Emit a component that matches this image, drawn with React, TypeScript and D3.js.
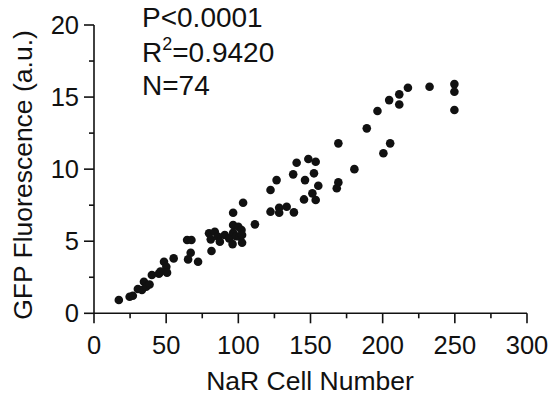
import React from "react";
import * as d3 from "d3";

const xTicks = [0, 50, 100, 150, 200, 250, 300];
const xMinor = [25, 75, 125, 175, 225, 275];
const yTicks = [0, 5, 10, 15, 20];
const yMinor = [2.5, 7.5, 12.5, 17.5];

const cellNumber = [
  17.2, 24.7, 26.9, 30.4, 33.2, 34.6, 36.2, 38.5, 40.1, 45, 46, 48.5, 50.1, 50.6, 55.2,
  64.5, 67.5, 67, 65.2, 72.1, 81.4, 79.7, 83.7, 80.9, 86, 87.2, 90.6, 93.6,
  96.4, 96.4, 96.4, 96, 98.5, 100, 101, 102.2, 102.6, 102.6, 103.3, 111.5,
  122.3, 126.5, 122.3, 128.3, 128.3, 133.5, 138.5, 138, 140.4, 148.5, 153.6, 146.2,
  152.4, 155.4, 151.3, 145.5, 153.6, 169.3, 169.3, 168.2, 180.4, 189, 196.4, 200.5,
  205.2, 204.5, 211.5, 211.5, 217.5, 232.5, 249.7, 249.7, 249.7,
];
const gfp = [
  0.92, 1.15, 1.22, 1.69, 1.62, 2.19, 1.84, 2.0, 2.66, 2.75, 2.89, 3.58, 3.23, 2.82, 3.81,
  5.08, 5.08, 4.2, 3.74, 3.58, 4.32, 5.55, 5.66, 5.13, 5.31, 4.97, 5.43, 5.2,
  6.98, 6.12, 5.59, 4.8, 5.35, 6.0, 5.31, 5.78, 4.9, 5.43, 7.67, 6.17,
  8.55, 9.24, 7.05, 7.32, 6.98, 7.39, 7.0, 9.64, 10.44, 10.7, 10.51, 9.24,
  9.71, 8.85, 8.32, 7.9, 7.86, 11.79, 9.08, 8.67, 10.0, 12.83, 14.03, 11.1,
  11.79, 14.79, 15.19, 14.49, 15.65, 15.72, 15.9, 15.37, 14.1,
];

const W = 551;
const H = 396;
const FONT = "'Liberation Sans', Arial, Helvetica, sans-serif";

export default function App() {
  const x = d3.scaleLinear().domain([0, 300]).range([94, 527]);
  const y = d3.scaleLinear().domain([0, 20]).range([313.3, 25]);
  const ink = "#111";
  const sw = 1.6;
  const pts = cellNumber.map((c, i) => ({ c, g: gfp[i] }));

  return (
    <svg
      width={W}
      height={H}
      style={{ position: "absolute", left: 0, top: 0, background: "#fff" }}
      fontFamily={FONT}
    >
      <rect x={0} y={0} width={W} height={H} fill="#fff" />
      <line x1={x(0)} x2={x(300)} y1={y(0)} y2={y(0)} stroke={ink} strokeWidth={sw} />
      <line x1={x(0)} x2={x(0)} y1={y(0)} y2={y(20)} stroke={ink} strokeWidth={sw} />
      {xTicks.map((t) => (
        <g key={"xt" + t}>
          <line x1={x(t)} x2={x(t)} y1={y(0)} y2={y(0) + 10} stroke={ink} strokeWidth={sw} />
          <text x={x(t)} y={353.5} fontSize={25.5} textAnchor="middle" fill={ink}>
            {t}
          </text>
        </g>
      ))}
      {xMinor.map((t) => (
        <line key={"xm" + t} x1={x(t)} x2={x(t)} y1={y(0)} y2={y(0) + 5} stroke={ink} strokeWidth={sw} />
      ))}
      {yTicks.map((t) => (
        <g key={"yt" + t}>
          <line x1={x(0) - 10} x2={x(0)} y1={y(t)} y2={y(t)} stroke={ink} strokeWidth={sw} />
          <text x={79} y={y(t) + 9} fontSize={25.5} textAnchor="end" fill={ink}>
            {t}
          </text>
        </g>
      ))}
      {yMinor.map((t) => (
        <line key={"ym" + t} x1={x(0) - 5} x2={x(0)} y1={y(t)} y2={y(t)} stroke={ink} strokeWidth={sw} />
      ))}
      <text x={310} y={390} fontSize={26.5} textAnchor="middle" fill={ink}>
        NaR Cell Number
      </text>
      <text
        transform={`translate(32, ${175}) rotate(-90)`}
        fontSize={26.5}
        textAnchor="middle"
        fill={ink}
      >
        GFP Fluorescence (a.u.)
      </text>
      <text x={142} y={27} fontSize={28} fill={ink}>
        P&lt;0.0001
      </text>
      <text x={142} y={62} fontSize={28} fill={ink}>
        R<tspan fontSize={18} dy={-12}>2</tspan>
        <tspan dy={12}>=0.9420</tspan>
      </text>
      <text x={142} y={95} fontSize={28} fill={ink}>
        N=74
      </text>
      {pts.map((p, i) => (
        <circle key={i} cx={x(p.c)} cy={y(p.g)} r={4.3} fill={ink} />
      ))}
    </svg>
  );
}
